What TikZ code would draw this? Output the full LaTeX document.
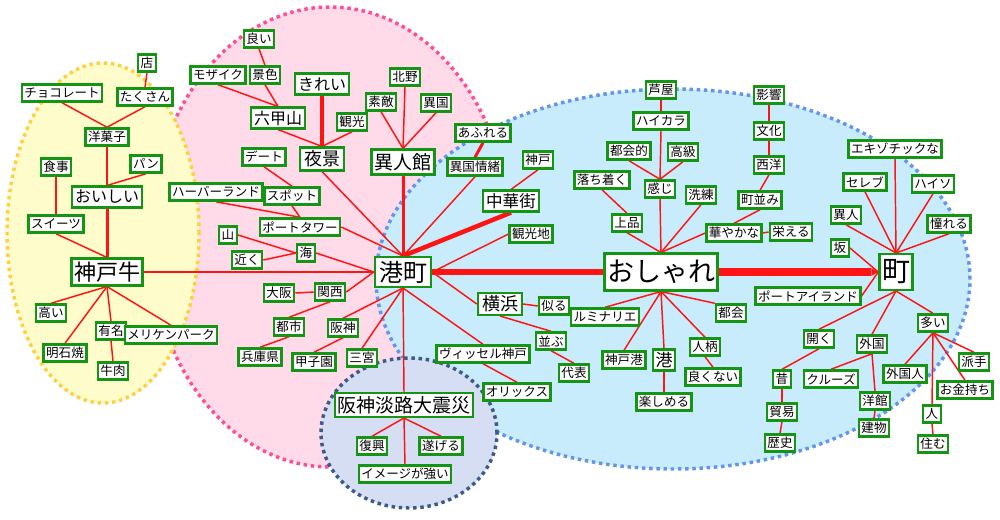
\documentclass[tikz,border=0pt]{standalone}
\usepackage{fontspec}
\setmainfont{Noto Sans CJK JP}
\usetikzlibrary{calc}
\pgfdeclarelayer{bg}
\pgfdeclarelayer{edges}
\pgfsetlayers{bg,edges,main}
\definecolor{boxgreen}{RGB}{20,150,20}
\definecolor{edred}{RGB}{255,20,20}
\definecolor{yelfill}{RGB}{255,252,204}
\definecolor{yelline}{RGB}{255,208,64}
\definecolor{pinkfill}{RGB}{255,218,232}
\definecolor{pinkline}{RGB}{255,77,150}
\definecolor{bluefill}{RGB}{200,236,251}
\definecolor{blueline}{RGB}{100,149,237}
\definecolor{navyfill}{RGB}{213,222,243}
\definecolor{navyline}{RGB}{60,90,138}
\tikzset{
  box/.style={draw=boxgreen, fill=white, line width=1.8pt, inner ysep=0pt},
  lb/.style={box, font=\fontsize{9.4pt}{9.4pt}\selectfont, minimum height=12.8pt, inner xsep=1.9pt},
  mk/.style n args={3}{box, font=\fontsize{#1}{#1}\selectfont, minimum height=#2, inner xsep=#3},
  ed/.style={draw=edred, line width=1.1pt},
  thk/.style={draw=edred, line width=#1},
  region/.style={line width=2.6pt, dash pattern=on 2.6pt off 2.8pt},
}
\begin{document}
\begin{tikzpicture}[x=0.75pt,y=-0.75pt]
\useasboundingbox (0,0) rectangle (1000,519);
\begin{pgfonlayer}{bg}
\fill[white] (0,0) rectangle (1000,519);
\draw[region, fill=pinkfill, draw=pinkline] (330,237) ellipse [x radius=135pt, y radius=172.5pt];
\draw[region, fill=yelfill, draw=yelline] (103,233) ellipse [x radius=72pt, y radius=127.5pt];
\draw[region, fill=bluefill, draw=blueline] (673,279) ellipse [x radius=222.75pt, y radius=142.5pt];
\draw[region, fill=navyfill, draw=navyline] (409,433) ellipse [x radius=66pt, y radius=56.25pt];
\end{pgfonlayer}

% ---------- nodes: yellow ----------
\node[lb] (mise) at (147,63) {店};
\node[lb] (takusan) at (145,97) {たくさん};
\node[lb] (choco) at (62,93) {チョコレート};
\node[lb] (yogashi) at (107,137) {洋菓子};
\node[lb] (shokuji) at (56,167) {食事};
\node[lb] (pan) at (146,164) {パン};
\node[mk={12pt}{15.5pt}{2.25pt}] (oishii) at (107,197) {おいしい};
\node[lb] (sweets) at (56,224) {スイーツ};
\node[mk={16.5pt}{20pt}{1.9pt}] (kobegyu) at (107,272) {神戸牛};
\node[lb] (takai) at (51,313) {高い};
\node[lb] (yumei) at (111,331) {有名};
\node[lb] (meriken) at (171,335) {メリケンパーク};
\node[lb] (akashi) at (65,353) {明石焼};
\node[lb] (gyuniku) at (113,371) {牛肉};

% ---------- nodes: pink ----------
\node[lb] (yoi) at (259,39) {良い};
\node[lb] (mosaic) at (218,75) {モザイク};
\node[lb] (keshiki) at (265,75) {景色};
\node[mk={12pt}{15.5pt}{2.25pt}] (kirei) at (322,84) {きれい};
\node[lb] (kitano) at (405,77) {北野};
\node[lb] (suteki) at (381,102) {素敵};
\node[lb] (ikoku) at (436,103) {異国};
\node[mk={12pt}{15.5pt}{2.25pt}] (rokko) at (278,118) {六甲山};
\node[lb] (kanko) at (352,122) {観光};
\node[lb] (date) at (264,157) {デート};
\node[mk={13.5pt}{17pt}{3pt}] (yakei) at (322,159) {夜景};
\node[mk={14.25pt}{18.5pt}{2.25pt}] (ijinkan) at (403,162) {異人館};
\node[lb] (harbor) at (216,192) {ハーバーランド};
\node[lb] (spot) at (292,196) {スポット};
\node[lb] (porttower) at (300,227) {ポートタワー};
\node[lb] (yama) at (228,235) {山};
\node[lb] (umi) at (306,253) {海};
\node[lb] (chikaku) at (247,260) {近く};
\node[lb] (osaka) at (279,293) {大阪};
\node[lb] (kansai) at (330,292) {関西};
\node[lb] (toshi) at (289,327) {都市};
\node[lb] (hanshin) at (343,328) {阪神};
\node[lb] (hyogo) at (260,357) {兵庫県};
\node[lb] (koshien) at (314,362) {甲子園};
\node[lb] (sannomiya) at (362,358) {三宮};
\node[mk={18pt}{22.2pt}{3pt}] (minatomachi) at (403,272) {港町};

% ---------- nodes: middle ----------
\node[lb] (afureru) at (483,133) {あふれる};
\node[lb] (ijocho) at (475,167) {異国情緒};
\node[lb] (kobe) at (538,160) {神戸};
\node[mk={12.4pt}{15.5pt}{2.25pt}] (chukagai) at (511,201) {中華街};
\node[lb] (kankochi) at (531,234) {観光地};
\node[mk={13.5pt}{16.2pt}{3pt}] (yokohama) at (500,304) {横浜};
\node[lb] (niru) at (554,306) {似る};
\node[lb] (luminarie) at (605,317) {ルミナリエ};
\node[lb] (narabu) at (551,341) {並ぶ};
\node[lb] (daihyo) at (574,373) {代表};
\node[lb] (vissel) at (483,354) {ヴィッセル神戸};
\node[lb] (orix) at (517,392) {オリックス};

% ---------- nodes: navy ----------
\node[mk={14.25pt}{17.7pt}{1.9pt}] (daishinsai) at (404,405) {阪神淡路大震災};
\node[lb] (fukko) at (372,446) {復興};
\node[lb] (togeru) at (441,446) {遂げる};
\node[lb] (imagetsuyoi) at (405,474) {イメージが強い};

% ---------- nodes: blue ----------
\node[lb] (ashiya) at (661,90) {芦屋};
\node[lb] (haikara) at (661,121) {ハイカラ};
\node[lb] (tokaiteki) at (629,151) {都会的};
\node[lb] (kokyu) at (683,152) {高級};
\node[lb] (ochitsuku) at (602,180) {落ち着く};
\node[lb] (kanji) at (660,189) {感じ};
\node[lb] (senren) at (701,195) {洗練};
\node[lb] (johin) at (627,223) {上品};
\node[lb] (hanayaka) at (734,233) {華やかな};
\node[lb] (sakaeru) at (791,232) {栄える};
\node[lb] (machinami) at (760,200) {町並み};
\node[lb] (seiyo) at (769,165) {西洋};
\node[lb] (bunka) at (769,131) {文化};
\node[lb] (eikyo) at (769,95) {影響};
\node[mk={20.25pt}{27.5pt}{1.9pt}] (oshare) at (661,272) {おしゃれ};
\node[lb] (tokai) at (731,313) {都会};
\node[lb] (kobeko) at (624,360) {神戸港};
\node[mk={12.75pt}{15.5pt}{1.9pt}] (minato) at (664,360) {港};
\node[lb] (hitogara) at (705,347) {人柄};
\node[lb] (yokunai) at (713,377) {良くない};
\node[lb] (tanoshimeru) at (664,402) {楽しめる};
\node[lb] (exotic) at (895,149) {エキゾチックな};
\node[lb] (celeb) at (865,182) {セレブ};
\node[lb] (haiso) at (933,184) {ハイソ};
\node[lb] (ijin) at (846,215) {異人};
\node[lb] (akogare) at (949,224) {憧れる};
\node[lb] (saka) at (840,248) {坂};
\node[mk={21pt}{26.7pt}{1.9pt}] (machi) at (896,272) {町};
\node[lb] (portisland) at (808,296) {ポートアイランド};
\node[lb] (hiraku) at (819,339) {開く};
\node[lb] (gaikoku) at (872,344) {外国};
\node[lb] (oi) at (933,323) {多い};
\node[lb] (mukashi) at (782,379) {昔};
\node[lb] (cruise) at (831,379) {クルーズ};
\node[lb] (gaikokujin) at (905,374) {外国人};
\node[lb] (hade) at (974,362) {派手};
\node[lb] (okanemochi) at (965,390) {お金持ち};
\node[lb] (boeki) at (782,412) {貿易};
\node[lb] (yokan) at (875,401) {洋館};
\node[lb] (hito) at (932,414) {人};
\node[lb] (rekishi) at (780,443) {歴史};
\node[lb] (tatemono) at (874,428) {建物};
\node[lb] (sumu) at (933,444) {住む};

% ---------- edges ----------
\begin{pgfonlayer}{edges}
% yellow
\draw[ed] (mise.south) -- (takusan.north);
\draw[ed] (takusan.south) -- (yogashi.north);
\draw[ed] (choco.south) -- (yogashi.north);
\draw[ed] (yogashi.south) -- (oishii.north);
\draw[ed] (pan.south) -- (oishii.north);
\draw[thk=2.25pt] (oishii.south) -- (kobegyu.north);
\draw[ed] (shokuji.south) -- (sweets.north);
\draw[ed] (sweets.south) -- (kobegyu.north);
\draw[ed] (kobegyu.south) -- (takai.north);
\draw[ed] (kobegyu.south) -- (akashi.north);
\draw[ed] (kobegyu.south) -- (yumei.north);
\draw[ed] (yumei.south) -- (gyuniku.north);
\draw[ed] (kobegyu.south) -- (meriken.north);
\draw[ed] (kobegyu.east) -- (minatomachi.west);
% pink
\draw[ed] (yoi.south) -- (keshiki.north);
\draw[ed] (keshiki.south) -- (rokko.north);
\draw[ed] (mosaic.south) -- (rokko.north);
\draw[ed] (rokko.south) -- (yakei.north);
\draw[ed] (kanko.south) -- (yakei.north);
\draw[thk=2.6pt] (kirei.south) -- (yakei.north);
\draw[ed] (yakei.south) -- (minatomachi.north);
\draw[ed] (kitano.south) -- (ijinkan.north);
\draw[ed] (suteki.south) -- (ijinkan.north);
\draw[ed] (ikoku.south) -- (ijinkan.north);
\draw[thk=2.25pt] (ijinkan.south) -- (minatomachi.north);
\draw[ed] (date.south) -- (spot.north);
\draw[ed] (harbor.south) -- (porttower.north);
\draw[ed] (spot.south) -- (porttower.north);
\draw[ed] (porttower.east) -- (minatomachi.north);
\draw[ed] (yama.east) -- (umi.west);
\draw[ed] (chikaku.east) -- (umi.west);
\draw[ed] (umi.east) -- (minatomachi.west);
\draw[ed] (osaka.east) -- (kansai.west);
\draw[ed] (kansai.east) -- (minatomachi.west);
\draw[ed] (toshi.north) -- (kansai.south);
\draw[ed] (hyogo.north) -- (toshi.south);
\draw[ed] (hanshin.north) -- (minatomachi.south);
\draw[ed] (koshien.north) -- (hanshin.south);
\draw[ed] (sannomiya.north) -- (minatomachi.south);
% around 港町
\draw[ed] (minatomachi.south) -- (daishinsai.north);
\draw[ed] (minatomachi.south) -- (vissel.north);
\draw[ed] (vissel.south) -- (orix.north);
\draw[ed] (minatomachi.east) -- (yokohama.west);
\draw[ed] (minatomachi.east) -- (kankochi.west);
\draw[thk=3.4pt] (minatomachi.north) -- (chukagai.south);
\draw[ed] (chukagai.north) -- (kobe.south);
\draw[ed] (ijocho.south) -- (minatomachi.north);
\draw[thk=2.25pt] (afureru.south) -- (ijocho.north);
\draw[thk=4.5pt] (minatomachi.east) -- (oshare.west);
\draw[ed] (yokohama.east) -- (niru.west);
\draw[ed] (yokohama.south) -- (narabu.north);
\draw[ed] (narabu.south) -- (daihyo.north);
% navy
\draw[ed] (daishinsai.south) -- (fukko.north);
\draw[ed] (daishinsai.south) -- (togeru.north);
\draw[ed] (daishinsai.south) -- (imagetsuyoi.north);
% blue: above おしゃれ
\draw[ed] (ashiya.south) -- (haikara.north);
\draw[ed] (haikara.south) -- (kanji.north);
\draw[ed] (tokaiteki.south) -- (kanji.north);
\draw[ed] (kokyu.south) -- (kanji.north);
\draw[ed] (kanji.south) -- (oshare.north);
\draw[ed] (ochitsuku.south) -- (johin.north);
\draw[ed] (johin.south) -- (oshare.north);
\draw[ed] (senren.south) -- (oshare.north);
\draw[ed] (hanayaka.west) -- (oshare.north);
\draw[ed] (sakaeru.west) -- (hanayaka.east);
\draw[ed] (machinami.south) -- (hanayaka.north);
\draw[ed] (seiyo.south) -- (machinami.north);
\draw[ed] (bunka.south) -- (seiyo.north);
\draw[ed] (eikyo.south) -- (bunka.north);
% blue: below おしゃれ
\draw[ed] (oshare.south) -- (luminarie.north);
\draw[ed] (oshare.south) -- (kobeko.north);
\draw[ed] (oshare.south) -- (minato.north);
\draw[ed] (oshare.south) -- (hitogara.north);
\draw[ed] (oshare.south) -- (tokai.north west);
\draw[ed] (hitogara.south) -- (yokunai.north);
\draw[ed] (minato.south) -- (tanoshimeru.north);
% おしゃれ -> 町 (thick bar with a short pointed end)
\coordinate (tipbase) at ($(machi.west)+(-7,0)$);
\draw[thk=6pt] (oshare.east) -- (tipbase);
\fill[edred] ($(tipbase)+(0,-4)$) -- (machi.west) -- ($(tipbase)+(0,4)$) -- cycle;
% 町
\draw[ed] (exotic.south) -- (machi.north);
\draw[ed] (celeb.south) -- (machi.north);
\draw[ed] (haiso.south) -- (machi.north);
\draw[ed] (ijin.south) -- (machi.north);
\draw[ed] (akogare.south) -- (machi.north);
\draw[ed] (saka.east) -- (machi.west);
\draw[ed] (portisland.east) -- (machi.west);
\draw[ed] (machi.south) -- (hiraku.north);
\draw[ed] (machi.south) -- (gaikoku.north);
\draw[ed] (machi.south) -- (oi.north);
\draw[ed] (hiraku.south) -- (mukashi.north);
\draw[ed] (mukashi.south) -- (boeki.north);
\draw[ed] (boeki.south) -- (rekishi.north);
\draw[ed] (gaikoku.south) -- (cruise.north);
\draw[ed] (gaikoku.south) -- (yokan.north);
\draw[ed] (yokan.south) -- (tatemono.north);
\draw[ed] (oi.south) -- (gaikokujin.north);
\draw[ed] (oi.south) -- (hito.north);
\draw[ed] (oi.south) -- (hade.north);
\draw[ed] (oi.south) -- (okanemochi.north);
\draw[ed] (hito.south) -- (sumu.north);
\end{pgfonlayer}
\end{tikzpicture}
\end{document}
